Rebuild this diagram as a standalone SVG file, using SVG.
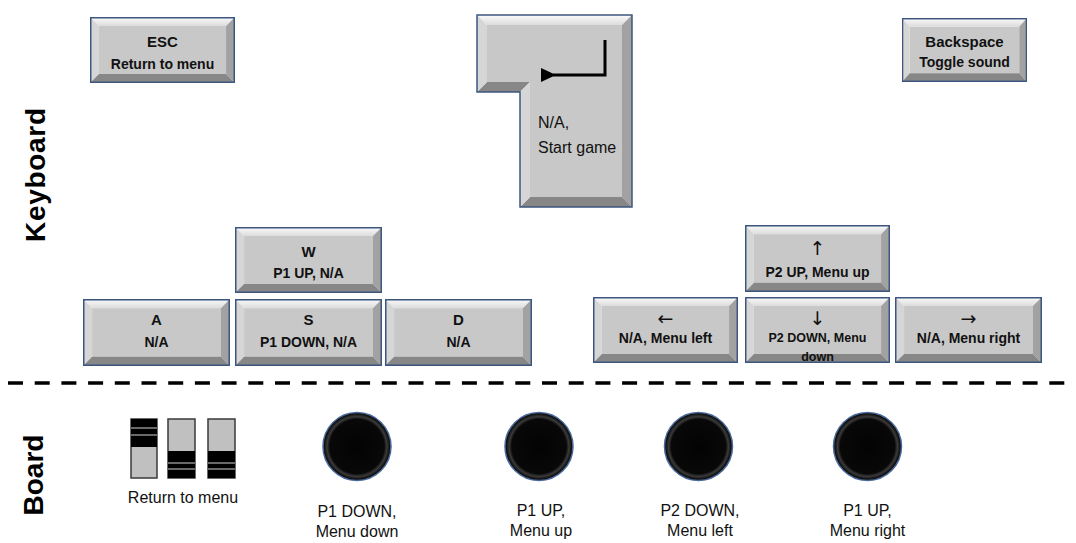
<svg xmlns="http://www.w3.org/2000/svg" width="1076" height="543" viewBox="0 0 1076 543">
<style>
  .face{fill:#c8c8c8}
  .bt{fill:url(#gTop)}
  .bl{fill:#d6d6d6}
  .br{fill:#a2a2a2}
  .bb{fill:#878787}
  .kout{fill:none;stroke:#3d5680;stroke-width:1.5}
  .k1{font-family:"Liberation Sans",Arial,sans-serif;font-weight:bold;font-size:15px;fill:#111;text-anchor:middle}
  .k2{font-family:"Liberation Sans",Arial,sans-serif;font-weight:bold;font-size:14px;fill:#111;text-anchor:middle}
  .arr{font-family:"DejaVu Sans",sans-serif;font-size:19px;fill:#111;text-anchor:middle}
  .lbl{font-family:"Liberation Sans",Arial,sans-serif;font-size:16px;fill:#111;text-anchor:middle}
  .lft{text-anchor:start}
  .side{font-family:"Liberation Sans",Arial,sans-serif;font-weight:bold;font-size:28px;fill:#000;text-anchor:middle}
  .swbody{fill:#c0c0c0;stroke:#3a3a3a;stroke-width:1.5}
  .swblk{fill:#000}
  .swln{stroke:#8c8c8c;stroke-width:1.5}
</style>
<defs>
  <linearGradient id="gTop" x1="0" y1="0" x2="0" y2="1">
    <stop offset="0" stop-color="#fbfbfb"/>
    <stop offset="1" stop-color="#dcdcdc"/>
  </linearGradient>
  <radialGradient id="gBtn" cx="0.5" cy="0.5" r="0.5">
    <stop offset="0" stop-color="#030303"/>
    <stop offset="0.8" stop-color="#080808"/>
    <stop offset="0.88" stop-color="#3a3a3a"/>
    <stop offset="0.95" stop-color="#141414"/>
    <stop offset="1" stop-color="#000"/>
  </radialGradient>
  <symbol id="key" viewBox="0 0 146 66" preserveAspectRatio="none">
    <rect class="face" x="9" y="9" width="128" height="48"/>
    <polygon class="bt" points="0,0 146,0 137,9 9,9"/>
    <polygon class="bl" points="0,0 9,9 9,57 0,66"/>
    <polygon class="br" points="146,0 146,66 137,57 137,9"/>
    <polygon class="bb" points="0,66 9,57 137,57 146,66"/>
    <rect class="kout" x="0.75" y="0.75" width="144.5" height="64.5"/>
  </symbol>
  <g id="btn">
    <circle r="34" fill="url(#gBtn)" stroke="#4a6a9c" stroke-width="1.5"/>
  </g>
  <marker id="ah" markerWidth="16" markerHeight="14" refX="3" refY="7" orient="auto" markerUnits="userSpaceOnUse"><path d="M15,0 L0,7 L15,14 z" fill="#000"/></marker>
</defs>

<g id="side-labels">
  <text class="side" transform="translate(45,175) rotate(-90)" textLength="134">Keyboard</text>
  <text class="side" transform="translate(43,475) rotate(-90)">Board</text>
</g>

<g id="key-esc">
  <use href="#key" x="90" y="17" width="145" height="66"/>
  <text class="k1" x="162.5" y="47">ESC</text>
  <text class="k2" x="162.5" y="69">Return to menu</text>
</g>

<g id="key-enter">
  <polygon class="face" points="487,25 622,25 622,197 530,197 530,82 487,82"/>
  <polygon class="bt" points="477,15 632,15 622,25 487,25"/>
  <polygon class="br" points="632,15 632,207 622,197 622,25"/>
  <polygon class="bb" points="632,207 520,207 530,197 622,197"/>
  <polygon class="bb" points="477,92 520,92 530,82 487,82"/>
  <polygon class="bl" points="477,15 487,25 487,82 477,92"/>
  <polygon class="bl" points="520,92 520,207 530,197 530,82"/>
  <polygon class="kout" points="477,15 632,15 632,207 520,207 520,92 477,92"/>
  <polyline points="605,40 605,75 553,75" fill="none" stroke="#000" stroke-width="3" marker-end="url(#ah)"/>
  <text class="lbl lft" x="538" y="128">N/A,</text>
  <text class="lbl lft" x="538" y="153">Start game</text>
</g>

<g id="key-backspace">
  <use href="#key" x="902" y="18" width="125" height="64"/>
  <text class="k1" x="964.5" y="47">Backspace</text>
  <text class="k2" x="964.5" y="67">Toggle sound</text>
</g>

<g id="key-w">
  <use href="#key" x="235" y="227" width="147" height="66"/>
  <text class="k1" x="308.5" y="257">W</text>
  <text class="k2" x="308.5" y="278">P1 UP, N/A</text>
</g>
<g id="key-a">
  <use href="#key" x="83" y="299" width="147" height="67"/>
  <text class="k1" x="156.5" y="325">A</text>
  <text class="k2" x="156.5" y="347">N/A</text>
</g>
<g id="key-s">
  <use href="#key" x="235" y="299" width="147" height="67"/>
  <text class="k1" x="308.5" y="325">S</text>
  <text class="k2" x="308.5" y="347">P1 DOWN, N/A</text>
</g>
<g id="key-d">
  <use href="#key" x="385" y="299" width="147" height="67"/>
  <text class="k1" x="458.5" y="325">D</text>
  <text class="k2" x="458.5" y="347">N/A</text>
</g>

<g id="key-up">
  <use href="#key" x="745" y="225" width="145" height="67"/>
  <text class="arr" x="817.5" y="255">↑</text>
  <text class="k2" x="817.5" y="277">P2 UP, Menu up</text>
</g>
<g id="key-left">
  <use href="#key" x="593" y="297" width="145" height="66"/>
  <text class="arr" x="665.5" y="325">←</text>
  <text class="k2" x="665.5" y="343">N/A, Menu left</text>
</g>
<g id="key-down">
  <use href="#key" x="745" y="297" width="145" height="66"/>
  <text class="arr" x="817.5" y="325">↓</text>
  <text class="k2" x="817.5" y="342" style="font-size:12.5px">P2 DOWN, Menu</text>
  <text class="k2" x="817.5" y="361" style="font-size:12.5px">down</text>
</g>
<g id="key-right">
  <use href="#key" x="895" y="297" width="147" height="66"/>
  <text class="arr" x="968.5" y="325">→</text>
  <text class="k2" x="968.5" y="343">N/A, Menu right</text>
</g>

<g id="separator">
  <line x1="8" y1="383" x2="1072" y2="383" stroke="#000" stroke-width="3.5" stroke-dasharray="15 11.7"/>
</g>

<g id="switches">
  <rect class="swbody" x="131" y="419" width="26" height="59"/>
  <rect class="swblk" x="131" y="419" width="26" height="28"/>
  <line class="swln" x1="131" y1="428" x2="157" y2="428"/>
  <line class="swln" x1="131" y1="435" x2="157" y2="435"/>
  <rect class="swbody" x="168" y="419" width="27" height="59"/>
  <rect class="swblk" x="168" y="451" width="27" height="27"/>
  <line class="swln" x1="168" y1="463" x2="195" y2="463"/>
  <line class="swln" x1="168" y1="469" x2="195" y2="469"/>
  <rect class="swbody" x="208" y="419" width="27" height="59"/>
  <rect class="swblk" x="208" y="451" width="27" height="27"/>
  <line class="swln" x1="208" y1="463" x2="235" y2="463"/>
  <line class="swln" x1="208" y1="469" x2="235" y2="469"/>
  <text class="lbl" x="183" y="503">Return to menu</text>
</g>

<g id="button-1">
  <use href="#btn" transform="translate(357,446.5)"/>
  <text class="lbl" x="357" y="517">P1 DOWN,</text>
  <text class="lbl" x="357" y="537">Menu down</text>
</g>
<g id="button-2">
  <use href="#btn" transform="translate(539,446.5)"/>
  <text class="lbl" x="541" y="516">P1 UP,</text>
  <text class="lbl" x="541" y="536">Menu up</text>
</g>
<g id="button-3">
  <use href="#btn" transform="translate(698.5,446.5)"/>
  <text class="lbl" x="700" y="516">P2 DOWN,</text>
  <text class="lbl" x="700" y="536">Menu left</text>
</g>
<g id="button-4">
  <use href="#btn" transform="translate(867.5,446.5)"/>
  <text class="lbl" x="867.5" y="516">P1 UP,</text>
  <text class="lbl" x="867.5" y="536">Menu right</text>
</g>
</svg>
